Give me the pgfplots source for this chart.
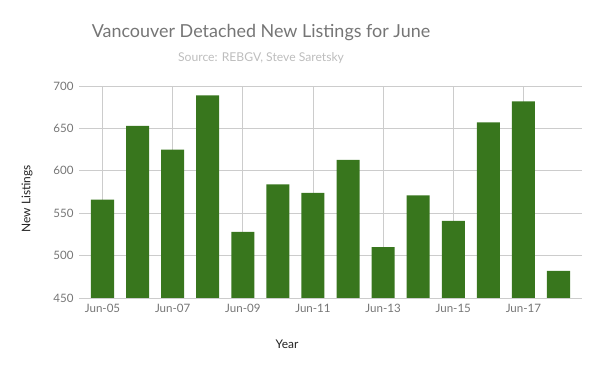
\documentclass[border=0pt]{standalone}
\usepackage{pgfplots}
\pgfplotsset{compat=1.18}
\usepackage{fontspec}
\setmainfont{Lato}
\definecolor{bargreen}{HTML}{38761D}
\definecolor{gridgray}{HTML}{CCCCCC}
\definecolor{ticktext}{HTML}{757575}
\definecolor{subgray}{HTML}{BDBDBD}
\definecolor{labeltext}{HTML}{222222}
\begin{document}
\begin{tikzpicture}[x=1bp,y=1bp]
\useasboundingbox (-79bp,-73bp) rectangle (521bp,298bp);
\begin{axis}[
  at={(0,0)}, anchor=south west,
  scale only axis, width=503bp, height=212bp,
  xmin=-0.67, xmax=13.67, ymin=450, ymax=700,
  ytick={450,500,...,700},
  xtick={0,2,4,6,8,10,12},
  xticklabels={Jun-05,Jun-07,Jun-09,Jun-11,Jun-13,Jun-15,Jun-17},
  /pgf/number format/assume math mode=true,
  ymajorgrids, xmajorgrids,
  grid style={gridgray, line width=0.8bp},
  axis line style={draw=none},
  major tick length=0pt,
  tick label style={font=\fontsize{11.6}{14}\selectfont, text=ticktext},
  yticklabel style={xshift=-2bp},
  xticklabel style={yshift=-3bp},
  ybar, bar width=0.656,
]
\addplot[fill=bargreen, draw=none] coordinates {
(0,566) (1,653) (2,625) (3,689) (4,528) (5,584) (6,574)
(7,613) (8,510) (9,571) (10,541) (11,657) (12,682) (13,482)
};
\end{axis}
\node[text=ticktext, font=\fontsize{18}{22}\selectfont] at (182bp,265bp) {Vancouver Detached New Listings for June};
\node[text=subgray, font=\fontsize{12.2}{15}\selectfont] at (182bp,240bp) {Source: REBGV, Steve Saretsky};
\node[text=labeltext, font=\fontsize{12}{14}\selectfont] at (208bp,-46bp) {Year};
\node[text=labeltext, font=\fontsize{12}{14}\selectfont, rotate=90] at (-52bp,99bp) {New Listings};
\end{tikzpicture}
\end{document}
